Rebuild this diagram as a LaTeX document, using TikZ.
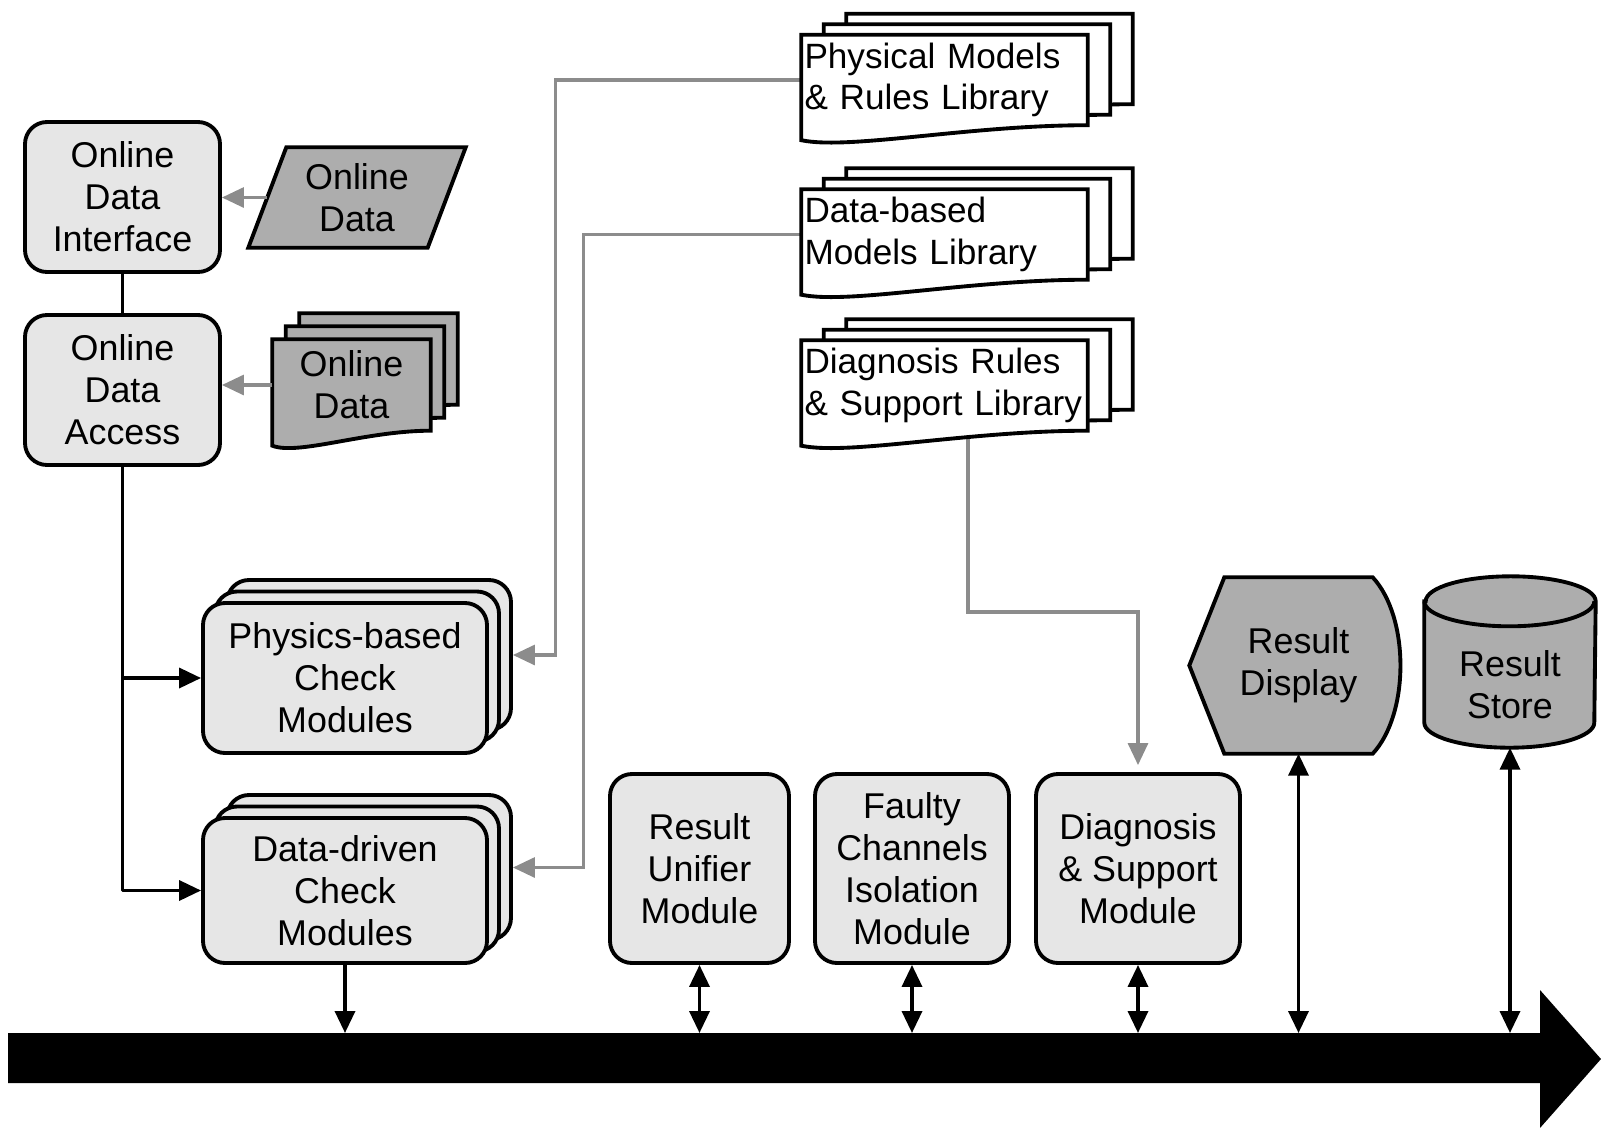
\documentclass[tikz,border=0pt]{standalone}
\usepackage{fontspec}
\setmainfont{Liberation Sans}
\usetikzlibrary{arrows.meta,shadows,backgrounds}
\definecolor{lightbox}{HTML}{E6E6E6}
\definecolor{darkbox}{HTML}{ADADAD}
\definecolor{linkgray}{HTML}{8C8C8C}
\newcommand{\docstack}[5]{%
	\foreach \k in {2,1,0}{\filldraw[fill=#2, line width=1.1pt] ([shift={(\k*#3,\k*#4)}]#1.north west) -- ([shift={(\k*#3,\k*#4)}]#1.north east) -- ([shift={(\k*#3,\k*#4)}]#1.south east) .. controls +(-#5,0) and +(0.4*#5,-0.1) .. ([shift={(\k*#3,\k*#4-0.15)}]#1.south west) -- cycle;}%
}
\begin{document}
\begin{tikzpicture}[line join=round, >={Triangle[length=2.2mm,width=2mm]},
	every node/.style={font=\fontsize{10.2}{12}\selectfont},
	modbox/.style={draw, line width=1.1pt, rounded corners=0.22cm, fill=lightbox, align=center, inner sep=0pt},
	stackbox/.style={copy shadow={shadow xshift=0.24cm, shadow yshift=0.23cm, fill=lightbox, draw=black, line width=1.1pt}, copy shadow={shadow xshift=0.12cm, shadow yshift=0.115cm, fill=lightbox, draw=black, line width=1.1pt}, modbox},
	docnode/.style={inner xsep=0.025cm, inner ysep=0pt, minimum height=0.89cm, text width=2.8cm, align=left, font=\fontsize{10}{11.8}\selectfont},
	link/.style={line width=1pt, ->},
	graylink/.style={linkgray, line width=0.9pt, ->}]
		\useasboundingbox (0,0) rectangle (16.01,-11.28);
		\node[modbox, minimum width=1.95cm, minimum height=1.5cm] (odi) at (1.225,-1.97) {Online\\Data\\Interface};
		\node[modbox, minimum width=1.95cm, minimum height=1.5cm] (oda) at (1.225,-3.9) {Online\\Data\\Access};
		\node[align=center, inner sep=0pt, minimum width=1.78cm, minimum height=0.99cm] (odata) at (3.57,-1.975) {Online\\Data};
		\node[align=center, inner sep=0pt, minimum width=1.57cm, minimum height=0.9cm] (odstack) at (3.515,-3.85) {Online\\Data};
		\node[stackbox, minimum width=2.84cm, minimum height=1.5cm] (pbcm) at (3.45,-6.78) {Physics-based\\Check\\Modules};
		\node[stackbox, minimum width=2.84cm, minimum height=1.45cm] (ddcm) at (3.45,-8.905) {Data-driven\\Check\\Modules};
		\node[docnode] (pmrl) at (9.445,-0.8) {Physical Models\\\& Rules Library};
		\node[docnode] (dbml) at (9.445,-2.345) {Data-based\\Models Library};
		\node[docnode] (drsl) at (9.445,-3.855) {Diagnosis Rules\\\& Support Library};
		\node[modbox, minimum width=1.79cm, minimum height=1.89cm] (ru) at (6.995,-8.685) {Result\\Unifier\\Module};
		\node[modbox, minimum width=1.94cm, minimum height=1.89cm] (fci) at (9.12,-8.685) {Faulty\\Channels\\Isolation\\Module};
		\node[modbox, minimum width=2.04cm, minimum height=1.89cm] (dsm) at (11.38,-8.685) {Diagnosis\\\& Support\\Module};
		\node[align=center, inner sep=0pt, minimum width=1.47cm, minimum height=1.75cm] (disp) at (12.985,-6.655) {Result\\Display};
		\node[align=center, inner sep=0pt, minimum width=1.7cm, minimum height=1.24cm] (store) at (15.1,-6.85) {Result\\Store};
		\coordinate (bustop) at (0,-10.33);
		\begin{scope}[on background layer]
		\draw[graylink] (pmrl.west) -- ++(-2.46,0) |- ([shift={(0.24,0.23)}]pbcm.east);
		\draw[graylink] (dbml.west) -- ++(-2.18,0) |- ([shift={(0.24,0.23)}]ddcm.east);
		\draw[graylink] ([xshift=2.35mm]drsl.south) |- ([yshift=16mm]dsm.north) -- ([yshift=0.7mm]dsm.north);
		\docstack{pmrl}{white}{0.225}{0.105}{1.2}
		\docstack{dbml}{white}{0.225}{0.105}{1.2}
		\docstack{drsl}{white}{0.225}{0.105}{1.2}
		\docstack{odstack}{darkbox}{0.135}{0.13}{0.65}
		\filldraw[fill=darkbox, line width=1.1pt] ([xshift=1.9mm]odata.north west) -- ([xshift=1.9mm]odata.north east) -- ([xshift=-1.9mm]odata.south east) -- ([xshift=-1.9mm]odata.south west) -- cycle;
		\filldraw[fill=darkbox, line width=1.1pt] (disp.north west) -- (disp.north east) .. controls +(0.37,-0.4) and +(0.37,0.4) .. (disp.south east) -- (disp.south west) -- ([xshift=-3.5mm]disp.west) -- cycle;
		\filldraw[fill=darkbox, line width=1.1pt] ([yshift=2.1mm]store.north west) -- ([yshift=2.5mm]store.south west) arc[start angle=180, end angle=360, x radius=0.85cm, y radius=0.25cm] -- ([yshift=2.1mm]store.north east) arc[start angle=0, end angle=180, x radius=0.85cm, y radius=0.25cm] -- cycle;
		\draw[line width=1.1pt] ([yshift=2.1mm]store.north west) arc[start angle=180, end angle=360, x radius=0.85cm, y radius=0.25cm];
		\end{scope}
		\draw[graylink] (odata.west) -- (odata.west -| odi.east);
		\draw[graylink] (odstack.west) -- (odstack.west -| oda.east);
		\draw[line width=1pt] (odi) -- (oda);
		\draw[link] (oda.south) |- (ddcm.west);
		\draw[link] (oda.south |- pbcm.west) -- (pbcm.west);
		\fill (0.08,-10.33) -- (15.4,-10.33) -- (15.4,-9.9) -- (16.01,-10.59) -- (15.4,-11.28) -- (15.4,-10.83) -- (0.08,-10.83) -- cycle;
		\draw[link] (ddcm.south) -- (ddcm.south |- bustop);
		\foreach \modul in {ru,fci,dsm,disp,store}{\draw[link, <->] (\modul.south) -- (\modul.south |- bustop);}
	\end{tikzpicture}
\end{document}
